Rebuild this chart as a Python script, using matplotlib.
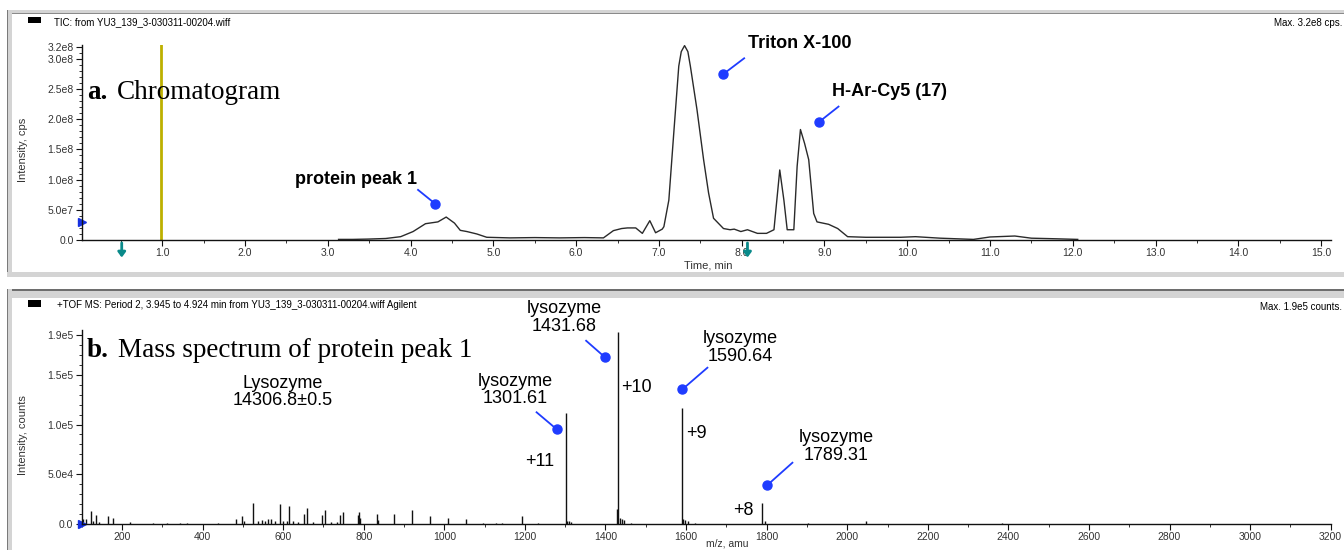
import numpy as np
import matplotlib
matplotlib.use("Agg")
import matplotlib.pyplot as plt
from matplotlib.patches import Rectangle
from matplotlib.ticker import FixedLocator, FixedFormatter, MultipleLocator

W, H = 1344, 550

# ---- TIC chromatogram (time in min, intensity in 1e8 cps) ----
tic_t = [3.13, 3.30, 3.48, 3.70, 3.88, 4.03, 4.18, 4.33, 4.43, 4.53,
         4.60, 4.68, 4.80, 4.92, 5.20, 5.50, 5.80, 6.10, 6.33, 6.45,
         6.55, 6.62, 6.72, 6.80, 6.89, 6.96, 7.04, 7.06, 7.12, 7.18,
         7.24, 7.27, 7.31, 7.35, 7.38, 7.46, 7.54, 7.60, 7.66, 7.78, 7.86, 7.91,
         7.99, 8.07, 8.19, 8.30, 8.39, 8.46, 8.51, 8.55, 8.63, 8.67,
         8.71, 8.76, 8.81, 8.87, 8.91, 9.05, 9.16, 9.28, 9.50, 9.92,
         10.10, 10.40, 10.80, 11.00, 11.30, 11.50, 11.80, 12.06]
tic_v = [0.01, 0.01, 0.015, 0.025, 0.055, 0.14, 0.27, 0.30, 0.38, 0.28,
         0.16, 0.14, 0.10, 0.045, 0.035, 0.04, 0.035, 0.04, 0.035, 0.155,
         0.19, 0.20, 0.20, 0.11, 0.32, 0.12, 0.18, 0.22, 0.66, 1.78,
         2.88, 3.12, 3.22, 3.12, 2.88, 2.16, 1.33, 0.78, 0.36, 0.19, 0.17, 0.18,
         0.14, 0.17, 0.11, 0.11, 0.17, 1.16, 0.66, 0.17, 0.17, 1.22,
         1.83, 1.60, 1.33, 0.44, 0.30, 0.26, 0.19, 0.055, 0.045, 0.045,
         0.055, 0.03, 0.01, 0.05, 0.066, 0.03, 0.02, 0.01]

tic_yticks = [0.0, 0.5, 1.0, 1.5, 2.0, 2.5, 3.0, 3.2]
tic_ylabels = ["0.0", "5.0e7", "1.0e8", "1.5e8", "2.0e8", "2.5e8", "3.0e8", "3.2e8"]
tic_xticks = [1.0, 2.0, 3.0, 4.0, 5.0, 6.0, 7.0, 8.0, 9.0, 10.0, 11.0, 12.0, 13.0, 14.0, 15.0]

# (text, text x, text y, line start x, line start y, dot x, dot y, ha)
tic_notes = [
    ("protein peak 1", 4.08, 0.995, 4.09, 0.83, 4.30, 0.597, "right"),
    ("Triton X-100", 8.08, 3.26, 8.03, 3.01, 7.78, 2.75, "left"),
    ("H-Ar-Cy5 (17)", 9.09, 2.46, 9.17, 2.21, 8.93, 1.95, "left"),
]

# ---- mass spectrum (m/z, counts) ----
ms_mz = [104, 111, 122, 129, 135, 143, 164.5, 177, 220, 278, 311, 344, 361, 438,
         482, 497, 503, 524, 538, 547, 555, 563, 569, 581, 592, 600, 609, 614,
         625, 638, 652.5, 658.5, 675, 697, 704, 718, 733, 741, 748, 785, 788, 791,
         832, 836, 875, 920.5, 964.5, 1008, 1054, 1097, 1128, 1142, 1192, 1233,
         1301.61, 1305, 1310, 1315, 1429.5, 1431.68, 1436, 1441, 1447, 1463,
         1590.64, 1593, 1598, 1605, 1622, 1789.31, 1796, 1903, 2046, 2383]
ms_int = [4700, 5000, 13000, 3000, 9000, 2000, 8000, 6000, 2000, 800, 700, 700, 600, 700,
          4700, 8000, 3000, 20800, 3500, 4500, 3000, 4700, 5000, 3500, 19800, 3000, 3500, 18500,
          3000, 2500, 10000, 16000, 2500, 9000, 14000, 2500, 2500, 9000, 12000, 9000, 12000, 6000,
          10000, 4000, 10000, 14000, 8000, 6000, 4700, 1500, 1000, 1000, 8000, 1000,
          112000, 3000, 3500, 2500, 15000, 193000, 6000, 5000, 4000, 1500,
          117000, 5000, 4500, 3000, 1000, 21000, 3000, 1000, 3500, 1500]

ms_yticks = [0, 5e4, 1e5, 1.5e5, 1.9e5]
ms_ylabels = ["0.0", "5.0e4", "1.0e5", "1.5e5", "1.9e5"]
ms_xticks = [200, 400, 600, 800, 1000, 1200, 1400, 1600, 1800, 2000,
             2200, 2400, 2600, 2800, 3000, 3200]

# (text, text x, text y, line start x, line start y, dot x, dot y)
ms_notes = [
    ("lysozyme\n1301.61", 1177, 1.347e5, 1229, 1.123e5, 1279, 0.952e5),
    ("lysozyme\n1431.68", 1297, 2.075e5, 1352, 1.842e5, 1399, 1.675e5),
    ("lysozyme\n1590.64", 1734, 1.771e5, 1653, 1.571e5, 1591, 1.354e5),
    ("lysozyme\n1789.31", 1972, 0.777e5, 1864, 0.616e5, 1802, 0.392e5),
]
charges = [("+11", 1236, 0.626e5), ("+10", 1477.5, 1.37e5),
           ("+9", 1626, 0.912e5), ("+8", 1742, 0.131e5)]

BLUE = "#1f3cff"
SANS = "Liberation Sans"
SERIF = "Liberation Serif"


def fx(px):
    return px / W


def fy(py):
    return 1 - py / H


def band(fig, x0, x1, y0, y1, color):
    fig.add_artist(Rectangle((fx(x0), fy(y1)), fx(x1) - fx(x0), fy(y0) - fy(y1),
                             transform=fig.transFigure, color=color, lw=0))


def style_axes(ax):
    for s in ("top", "right"):
        ax.spines[s].set_visible(False)
    for s in ("left", "bottom"):
        ax.spines[s].set_color("#111111")
        ax.spines[s].set_linewidth(1.0)
    ax.tick_params(which="major", length=4, width=0.8, color="#111111",
                   labelsize=7.5, labelcolor="#333333", pad=2)
    ax.tick_params(which="minor", length=2, width=0.6, color="#111111")
    for lab in ax.get_xticklabels() + ax.get_yticklabels():
        lab.set_family(SANS)


fig = plt.figure(figsize=(W / 100, H / 100), dpi=100)

# window frames
band(fig, 7, W, 10, 13, "#d4d4d4")
band(fig, 11, W, 13, 14, "#8a8a8a")
band(fig, 7, 8, 10, 277, "#7a7a7a")
band(fig, 8, 12, 10, 277, "#d4d4d4")
band(fig, 7, W, 272, 277, "#d4d4d4")
band(fig, 7, W, 289, 291, "#6e6e6e")
band(fig, 7, W, 291, 298, "#d4d4d4")
band(fig, 7, 8, 289, H, "#7a7a7a")
band(fig, 8, 12, 289, H, "#d4d4d4")

# ---------------- top panel ----------------
ax1 = fig.add_axes([fx(82), fy(240), fx(1331) - fx(82), fy(45) - fy(240)])
ax1.plot(tic_t, np.array(tic_v) * 1e8, color="#2a2a2a", lw=1.0)
ax1.axvline(0.985, color="#bdb000", lw=2.0)
ax1.set_xlim(0.03, 15.12)
ax1.set_ylim(0, 3.23e8)
ax1.yaxis.set_major_locator(FixedLocator(np.array(tic_yticks) * 1e8))
ax1.yaxis.set_major_formatter(FixedFormatter(tic_ylabels))
ax1.yaxis.set_minor_locator(MultipleLocator(0.1e8))
ax1.xaxis.set_major_locator(FixedLocator(tic_xticks))
ax1.xaxis.set_major_formatter(FixedFormatter(["%.1f" % v for v in tic_xticks]))
ax1.xaxis.set_minor_locator(MultipleLocator(0.5))
style_axes(ax1)

for txt, tx, ty, lx, ly, dx, dy, ha in tic_notes:
    ax1.plot([lx, dx], [ly * 1e8, dy * 1e8], color=BLUE, lw=1.3, clip_on=False)
    ax1.plot([dx], [dy * 1e8], "o", color=BLUE, ms=6.5, clip_on=False)
    ax1.text(tx, ty * 1e8, txt, ha=ha, va="center", fontsize=13,
             fontweight="bold", family=SANS, color="black", clip_on=False)

ax1.plot([0], [0.30e8], ">", color="#1530e0", ms=6, clip_on=False,
         transform=ax1.get_yaxis_transform())
for t in (0.51, 8.07):
    ax1.annotate("", xy=(t, -0.09), xytext=(t, -0.015),
                 xycoords=("data", "axes fraction"), textcoords=("data", "axes fraction"),
                 arrowprops=dict(arrowstyle="-|>,head_width=0.22,head_length=0.3",
                                 color="#0a8a8a", lw=2.0, shrinkA=0, shrinkB=0),
                 annotation_clip=False)

# ---------------- bottom panel ----------------
ax2 = fig.add_axes([fx(81.7), fy(524), fx(1330.7) - fx(81.7), fy(330) - fy(524)])
ax2.vlines(ms_mz, 0, ms_int, color="#111111", lw=1.0)
ax2.set_xlim(100, 3200)
ax2.set_ylim(0, 1.95e5)
ax2.yaxis.set_major_locator(FixedLocator(ms_yticks))
ax2.yaxis.set_major_formatter(FixedFormatter(ms_ylabels))
ax2.yaxis.set_minor_locator(MultipleLocator(1e4))
ax2.xaxis.set_major_locator(FixedLocator(ms_xticks))
ax2.xaxis.set_major_formatter(FixedFormatter([str(v) for v in ms_xticks]))
ax2.xaxis.set_minor_locator(MultipleLocator(100))
style_axes(ax2)

for txt, tx, ty, lx, ly, dx, dy in ms_notes:
    ax2.plot([lx, dx], [ly, dy], color=BLUE, lw=1.3, clip_on=False)
    ax2.plot([dx], [dy], "o", color=BLUE, ms=6.5, clip_on=False)
    ax2.text(tx, ty, txt, ha="center", va="center", fontsize=13, family=SANS,
             linespacing=1.05, color="black", clip_on=False)
for txt, cx, cy in charges:
    ax2.text(cx, cy, txt, ha="center", va="center", fontsize=13, family=SANS,
             color="black", clip_on=False)
ax2.text(600, 1.327e5, "Lysozyme\n14306.8\u00b10.5", ha="center", va="center",
         fontsize=13, family=SANS, linespacing=1.05, color="black")
ax2.plot([0], [0], ">", color="#1530e0", ms=6, clip_on=False,
         transform=ax2.get_yaxis_transform())

# ---------------- headers and labels ----------------
fig.add_artist(Rectangle((fx(28), fy(23)), fx(13), 6 / H, transform=fig.transFigure,
                         color="black", lw=0))
fig.add_artist(Rectangle((fx(28), fy(307)), fx(13), 7 / H, transform=fig.transFigure,
                         color="black", lw=0))
fig.text(fx(54), fy(22), "TIC: from YU3_139_3-030311-00204.wiff", fontsize=7,
         family=SANS, va="center", ha="left")
fig.text(fx(1342), fy(23), "Max. 3.2e8 cps.", fontsize=7, family=SANS,
         va="center", ha="right")
fig.text(fx(57), fy(305),
         "+TOF MS: Period 2, 3.945 to 4.924 min from YU3_139_3-030311-00204.wiff Agilent",
         fontsize=7, family=SANS, va="center", ha="left")
fig.text(fx(1342), fy(307), "Max. 1.9e5 counts.", fontsize=7, family=SANS,
         va="center", ha="right")

fig.text(fx(23), fy(150), "Intensity, cps", rotation=90, fontsize=8, family=SANS,
         color="#333333", va="center", ha="center")
fig.text(fx(23), fy(435), "Intensity, counts", rotation=90, fontsize=8, family=SANS,
         color="#333333", va="center", ha="center")
fig.text(fx(708), fy(266), "Time, min", fontsize=8, family=SANS, color="#333333",
         va="center", ha="center")
fig.text(fx(727), fy(544), "m/z, amu", fontsize=7.5, family=SANS, color="#333333",
         va="center", ha="center")

fig.text(fx(87), fy(99), "a.", fontsize=19.5, family=SERIF, fontweight="bold",
         va="baseline", ha="left")
fig.text(fx(116.5), fy(99), "Chromatogram", fontsize=19.5, family=SERIF,
         va="baseline", ha="left")
fig.text(fx(86.7), fy(357), "b.", fontsize=19.5, family=SERIF, fontweight="bold",
         va="baseline", ha="left")
fig.text(fx(118.3), fy(357), "Mass spectrum of protein peak 1", fontsize=19.5,
         family=SERIF, va="baseline", ha="left")

fig.savefig("out.png", dpi=100)
